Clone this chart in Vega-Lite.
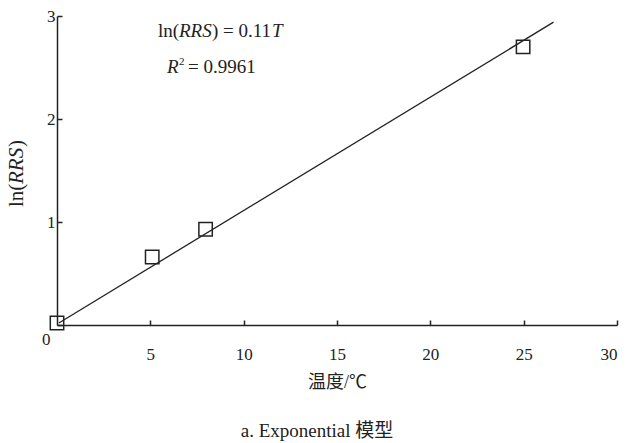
{
  "$schema": "https://vega.github.io/schema/vega-lite/v6.json",
  "width": 560,
  "height": 309,
  "autosize": {"type": "none"},
  "padding": {"left": 57, "top": 16, "right": 12, "bottom": 118},
  "background": "white",
  "config": {
    "view": {"stroke": null},
    "font": "Liberation Serif",
    "axis": {"grid": false, "domainColor": "#222", "domainWidth": 1.5, "tickColor": "#222", "tickWidth": 1.5, "labelFont": "Liberation Serif", "labelFontSize": 17, "labelColor": "#222", "titleFont": "Liberation Serif, Noto Sans CJK SC", "titleFontSize": 18, "titleFontWeight": "normal", "titleColor": "#222"}
  },
  "title": {"text": "a. Exponential 模型", "orient": "bottom", "font": "Liberation Serif, Noto Sans CJK SC", "fontSize": 19, "fontWeight": "normal", "color": "#222", "offset": 31, "anchor": "middle", "dx": -20},
  "datasets": {
    "points": [
      {"T": 0.0, "lnRRS": 0.02},
      {"T": 5.1, "lnRRS": 0.66},
      {"T": 7.96, "lnRRS": 0.93},
      {"T": 24.97, "lnRRS": 2.70}
    ],
    "fit": [
      {"T": 0.1, "lnRRS": 0.02},
      {"T": 26.6, "lnRRS": 2.94}
    ],
    "eq": [{"T": 5.41, "lnRRS": 2.854}],
    "r2": [{"T": 5.89, "lnRRS": 2.505}],
    "ytitle": [{"T": -2.14, "lnRRS": 1.146}]
  },
  "layer": [
    {
      "data": {"name": "fit"},
      "mark": {"type": "line", "color": "#222", "strokeWidth": 1.3, "clip": false},
      "encoding": {
        "x": {"field": "T", "type": "quantitative", "scale": {"domain": [0, 30]},
          "axis": {"values": [5, 10, 15, 20, 25, 30], "tickSize": -5, "labelPadding": 26, "title": "温度/℃", "titlePadding": 11}},
        "y": {"field": "lnRRS", "type": "quantitative", "scale": {"domain": [0, 3]},
          "axis": {"values": [0, 1, 2, 3], "format": "d", "tickSize": -5,
            "labelPadding": {"condition": {"test": "datum.value == 0", "value": 12}, "value": 7},
            "labelBaseline": {"condition": {"test": "datum.value == 0", "value": "top"}, "value": "middle"},
            "labelOffset": {"condition": {"test": "datum.value == 0", "value": 6}, "value": 0},
            "title": null}}
      }
    },
    {
      "data": {"name": "points"},
      "mark": {"type": "point", "shape": "square", "filled": false, "stroke": "#222", "strokeWidth": 1.5, "size": 180, "opacity": 1, "clip": false},
      "encoding": {
        "x": {"field": "T", "type": "quantitative"},
        "y": {"field": "lnRRS", "type": "quantitative"}
      }
    },
    {
      "data": {"name": "eq"},
      "mark": {"type": "text", "align": "left", "baseline": "middle", "fontSize": 19, "font": "Liberation Serif", "color": "#222", "dx": 0},
      "encoding": {"x": {"field": "T", "type": "quantitative"}, "y": {"field": "lnRRS", "type": "quantitative"}, "text": {"value": "ln("}}
    },
    {
      "data": {"name": "eq"},
      "mark": {"type": "text", "align": "left", "baseline": "middle", "fontSize": 19, "font": "Liberation Serif", "fontStyle": "italic", "color": "#222", "dx": 21},
      "encoding": {"x": {"field": "T", "type": "quantitative"}, "y": {"field": "lnRRS", "type": "quantitative"}, "text": {"value": "RRS"}}
    },
    {
      "data": {"name": "eq"},
      "mark": {"type": "text", "align": "left", "baseline": "middle", "fontSize": 19, "font": "Liberation Serif", "color": "#222", "dx": 54},
      "encoding": {"x": {"field": "T", "type": "quantitative"}, "y": {"field": "lnRRS", "type": "quantitative"}, "text": {"value": ") = 0.11"}}
    },
    {
      "data": {"name": "eq"},
      "mark": {"type": "text", "align": "left", "baseline": "middle", "fontSize": 19, "font": "Liberation Serif", "fontStyle": "italic", "color": "#222", "dx": 114},
      "encoding": {"x": {"field": "T", "type": "quantitative"}, "y": {"field": "lnRRS", "type": "quantitative"}, "text": {"value": "T"}}
    },
    {
      "data": {"name": "r2"},
      "mark": {"type": "text", "align": "left", "baseline": "middle", "fontSize": 19, "font": "Liberation Serif", "fontStyle": "italic", "color": "#222", "dx": 0},
      "encoding": {"x": {"field": "T", "type": "quantitative"}, "y": {"field": "lnRRS", "type": "quantitative"}, "text": {"value": "R"}}
    },
    {
      "data": {"name": "r2"},
      "mark": {"type": "text", "align": "left", "baseline": "middle", "fontSize": 11, "font": "Liberation Serif", "color": "#222", "dx": 12, "dy": -5},
      "encoding": {"x": {"field": "T", "type": "quantitative"}, "y": {"field": "lnRRS", "type": "quantitative"}, "text": {"value": "2"}}
    },
    {
      "data": {"name": "r2"},
      "mark": {"type": "text", "align": "left", "baseline": "middle", "fontSize": 19, "font": "Liberation Serif", "color": "#222", "dx": 21},
      "encoding": {"x": {"field": "T", "type": "quantitative"}, "y": {"field": "lnRRS", "type": "quantitative"}, "text": {"value": "= 0.9961"}}
    },
    {
      "data": {"name": "ytitle"},
      "mark": {"type": "text", "align": "left", "baseline": "middle", "angle": 270, "fontSize": 21, "font": "Liberation Serif", "color": "#222", "dx": 0, "clip": false},
      "encoding": {"x": {"field": "T", "type": "quantitative"}, "y": {"field": "lnRRS", "type": "quantitative"}, "text": {"value": "ln("}}
    },
    {
      "data": {"name": "ytitle"},
      "mark": {"type": "text", "align": "left", "baseline": "middle", "angle": 270, "fontSize": 21, "font": "Liberation Serif", "fontStyle": "italic", "color": "#222", "dx": 23, "clip": false},
      "encoding": {"x": {"field": "T", "type": "quantitative"}, "y": {"field": "lnRRS", "type": "quantitative"}, "text": {"value": "RRS"}}
    },
    {
      "data": {"name": "ytitle"},
      "mark": {"type": "text", "align": "left", "baseline": "middle", "angle": 270, "fontSize": 21, "font": "Liberation Serif", "color": "#222", "dx": 60, "clip": false},
      "encoding": {"x": {"field": "T", "type": "quantitative"}, "y": {"field": "lnRRS", "type": "quantitative"}, "text": {"value": ")"}}
    }
  ]
}
